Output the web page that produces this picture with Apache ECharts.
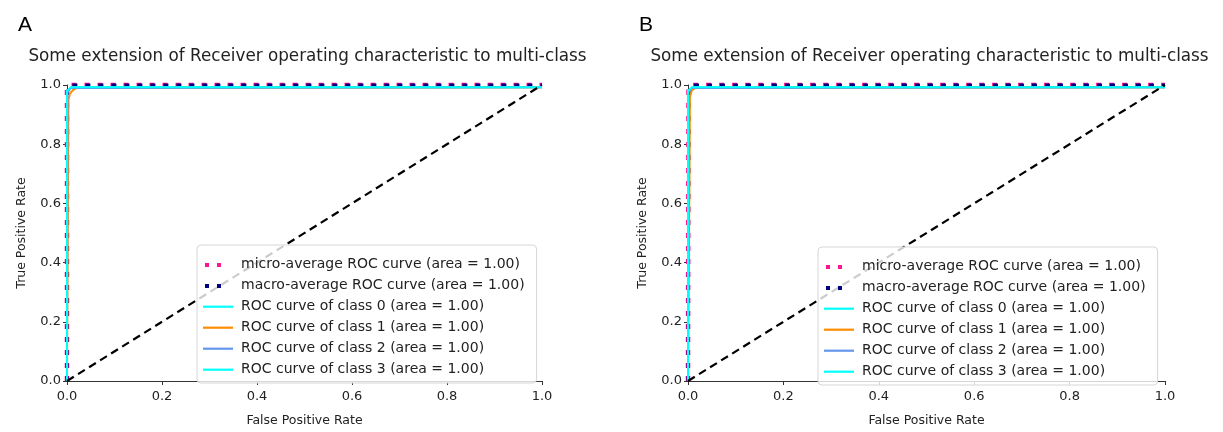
<!DOCTYPE html>
<html>
<head>
<meta charset="utf-8">
<script src="https://cdn.jsdelivr.net/npm/echarts@6/dist/echarts.min.js"></script>
<style>
  html, body { margin: 0; padding: 0; background: #fff; }
  #chart { width: 1223px; height: 432px; }
</style>
</head>
<body>
<div id="chart"></div>
<script>
// 数据：两个面板 (A, B) 的 ROC 曲线
const panelLetters = ['A', 'B'];
const chartTitle = 'Some extension of Receiver operating characteristic to multi-class';
const axisTicks = [0, 0.2, 0.4, 0.6, 0.8, 1.0];
const seriesNames = [
  'micro-average ROC curve (area = 1.00)',
  'macro-average ROC curve (area = 1.00)',
  'ROC curve of class 0 (area = 1.00)',
  'ROC curve of class 1 (area = 1.00)',
  'ROC curve of class 2 (area = 1.00)',
  'ROC curve of class 3 (area = 1.00)'
];

// 面板 A
const fprMicroA = [0, 0, 0.004, 1];
const tprMicroA = [0, 0.985, 1.0, 1.0];
const fprMacroA = [0, 0.001, 0.006, 1];
const tprMacroA = [0, 0.98, 1.0, 1.0];
const fprClass0A = [0, 0, 0.008, 1];
const tprClass0A = [0, 0.98, 0.992, 0.992];
const fprClass1A = [0, 0.003, 0.006, 0.012, 0.02, 1];
const tprClass1A = [0, 0.95, 0.97, 0.982, 0.99, 0.992];
const fprClass2A = [0, 0.001, 0.008, 1];
const tprClass2A = [0, 0.975, 0.99, 0.992];
const fprClass3A = [0, 0, 0.008, 1];
const tprClass3A = [0, 0.98, 0.992, 0.992];

// 面板 B
const fprMicroB = [0, 0.001, 0.005, 1];
const tprMicroB = [0, 0.98, 1.0, 1.0];
const fprMacroB = [0, 0.002, 0.007, 1];
const tprMacroB = [0, 0.975, 1.0, 1.0];
const fprClass0B = [0, 0, 0.008, 1];
const tprClass0B = [0, 0.98, 0.992, 0.992];
const fprClass1B = [0, 0.003, 0.004, 0.008, 0.015, 1];
const tprClass1B = [0, 0.67, 0.96, 0.982, 0.99, 0.992];
const fprClass2B = [0, 0.001, 0.008, 1];
const tprClass2B = [0, 0.975, 0.99, 0.992];
const fprClass3B = [0, 0, 0.008, 1];
const tprClass3B = [0, 0.98, 0.992, 0.992];

// 对角线
const diagX = [0, 1];
const diagY = [0, 1];

const panels = [
  [[fprMicroA, tprMicroA], [fprMacroA, tprMacroA], [fprClass0A, tprClass0A],
   [fprClass1A, tprClass1A], [fprClass2A, tprClass2A], [fprClass3A, tprClass3A]],
  [[fprMicroB, tprMicroB], [fprMacroB, tprMacroB], [fprClass0B, tprClass0B],
   [fprClass1B, tprClass1B], [fprClass2B, tprClass2B], [fprClass3B, tprClass3B]]
];

const zip = (xs, ys) => xs.map((x, i) => [x, ys[i]]);

const colors = ['#ff1493', '#000080', '#00ffff', '#ff8c00', '#6495ed', '#00ffff'];
const styles = [
  { width: 4.5, type: [5, 8] },
  { width: 3, type: [5, 8] },
  { width: 2, type: 'solid' },
  { width: 2, type: 'solid' },
  { width: 2, type: 'solid' },
  { width: 2, type: 'solid' }
];
const dotIcon = 'path://M0,0L0,0M30,9L30,9M2,3h4v4h-4zM14,3h4v4h-4z';
const lineIcon = 'path://M0,0L0,0M30,9L30,9M0,3.6h30v2.2h-30z';

// 布局
const grids = [
  { left: 67, top: 85, width: 475, height: 300 },
  { left: 688, top: 85, width: 477, height: 300 }
];
const legendPos = [
  { left: 197, top: 245 },
  { left: 818, top: 247 }
];

const chart = echarts.init(document.getElementById('chart'));

const fontFamily = 'DejaVu Sans';
const option = {
  animation: false,
  backgroundColor: '#fff',
  textStyle: { fontFamily: fontFamily },
  title: [],
  grid: grids,
  xAxis: [],
  yAxis: [],
  legend: [],
  series: []
};

panels.forEach((curves, p) => {
  const g = grids[p];
  option.title.push({
    text: panelLetters[p],
    left: g.left - 54,
    top: 10,
    textStyle: { fontFamily: 'Liberation Sans', fontSize: 21, fontWeight: 'normal', color: '#000' }
  });
  option.title.push({
    text: chartTitle,
    left: g.left + g.width / 2 - 2,
    top: 43,
    textAlign: 'center',
    textStyle: { fontFamily: fontFamily, fontSize: 16.8, fontWeight: 'normal', color: '#222' }
  });
  const axisCommon = {
    gridIndex: p,
    type: 'value',
    min: 0,
    max: 1,
    interval: 0.2,
    nameLocation: 'middle',
    nameTextStyle: { fontSize: 12.5, color: '#222', fontFamily: fontFamily },
    axisLine: { show: true, lineStyle: { color: '#333', width: 1 } },
    axisTick: { show: true, length: 4, lineStyle: { color: '#333' } },
    axisLabel: { fontSize: 13, color: '#222', formatter: v => v.toFixed(1) },
    splitLine: { show: false }
  };
  option.xAxis.push(Object.assign({}, axisCommon, {
    name: 'False Positive Rate',
    nameGap: 33,
    axisLabel: Object.assign({}, axisCommon.axisLabel, { margin: 9 })
  }));
  option.yAxis.push(Object.assign({}, axisCommon, {
    name: 'True Positive Rate',
    nameGap: 39,
    axisLabel: Object.assign({}, axisCommon.axisLabel, { margin: 6 })
  }));

  curves.forEach((c, i) => {
    option.series.push({
      name: seriesNames[i],
      type: 'line',
      xAxisIndex: p,
      yAxisIndex: p,
      data: zip(c[0], c[1]),
      showSymbol: false,
      symbol: 'none',
      clip: false,
      color: colors[i],
      lineStyle: { color: colors[i], width: styles[i].width, type: styles[i].type, cap: 'butt' },
      z: 2 + i
    });
  });
  option.series.push({
    name: 'diag',
    type: 'line',
    xAxisIndex: p,
    yAxisIndex: p,
    data: zip(diagX, diagY),
    symbol: 'none',
    clip: false,
    lineStyle: { color: '#000', width: 2.2, type: [8, 5] },
    z: 9
  });

  option.legend.push({
    orient: 'vertical',
    left: legendPos[p].left,
    top: legendPos[p].top,
    z: 20,
    padding: [11, 12, 5, 6],
    itemWidth: 30,
    itemHeight: 9,
    itemGap: 4,
    selectedMode: false,
    backgroundColor: 'rgba(255,255,255,0.8)',
    borderColor: '#d6d6d6',
    borderWidth: 1,
    borderRadius: 4,
    textStyle: { fontSize: 14, lineHeight: 17, color: '#222', fontFamily: fontFamily, padding: [0, 0, 0, 3] },
    data: seriesNames.map((n, i) => ({
      name: n,
      icon: i < 2 ? dotIcon : lineIcon,
      itemStyle: { color: colors[i], borderWidth: 0 }
    }))
  });
});

chart.setOption(option);
</script>
</body>
</html>
